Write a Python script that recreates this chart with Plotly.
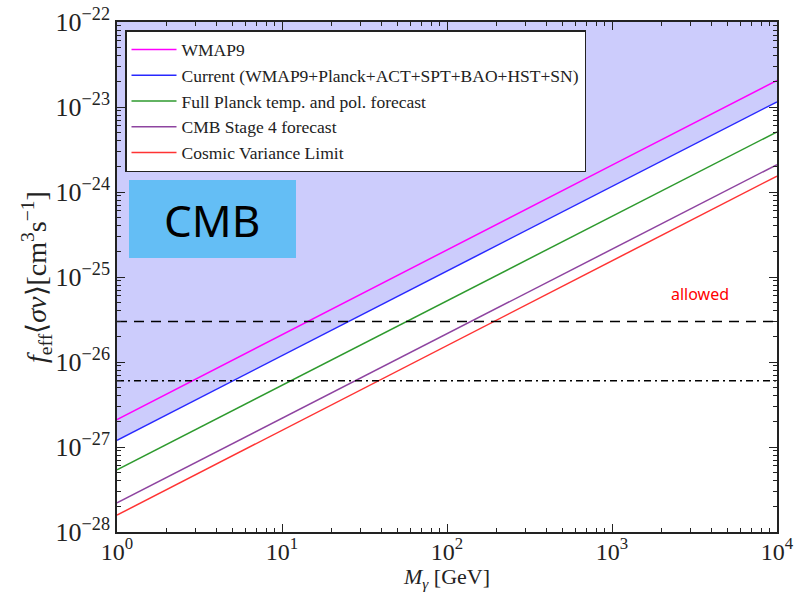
import plotly.graph_objects as go

# ---- data ----
mass = [1, 10, 100, 1000, 10000]
wmap9 = [2.1e-27, 2.1e-26, 2.09e-25, 2.07e-24, 2.05e-23]
current = [1.2e-27, 1.19e-26, 1.18e-25, 1.16e-24, 1.15e-23]
planck = [5.4e-28, 5.35e-27, 5.3e-26, 5.2e-25, 5.1e-24]
stage4 = [2.2e-28, 2.18e-27, 2.16e-26, 2.13e-25, 2.1e-24]
cvl = [1.58e-28, 1.57e-27, 1.56e-26, 1.55e-25, 1.54e-24]
x_range = [1, 10000]
y_top = [1e-22, 1e-22]
thermal_dashed = 3e-26
thermal_dashdot = 6e-27

names = ["WMAP9", "Current (WMAP9+Planck+ACT+SPT+BAO+HST+SN)",
         "Full Planck temp. and pol. forecast", "CMB Stage 4 forecast",
         "Cosmic Variance Limit"]
colors = ["#ff00ff", "#2828ff", "#2e9a2e", "#8e44a0", "#ff3333"]

x_ticks = [1, 10, 100, 1000, 10000]
x_ticktext = ["10<sup>0</sup>", "10<sup>1</sup>", "10<sup>2</sup>", "10<sup>3</sup>", "10<sup>4</sup>"]
y_ticks = [1e-28, 1e-27, 1e-26, 1e-25, 1e-24, 1e-23, 1e-22]
y_ticktext = ["10<sup>−%d</sup>" % n for n in [28, 27, 26, 25, 24, 23, 22]]

fig = go.Figure()

# shaded excluded region above current bound
fig.add_trace(go.Scatter(x=x_range, y=y_top, mode="lines", line=dict(width=0),
                         showlegend=False, hoverinfo="skip"))
fig.add_trace(go.Scatter(x=mass, y=current, mode="lines", line=dict(width=0),
                         fill="tonexty", fillcolor="rgb(204,204,252)",
                         showlegend=False, hoverinfo="skip"))

series = [wmap9, current, planck, stage4, cvl]
for i, (nm, ys, c) in enumerate(zip(names, series, colors)):
    fig.add_trace(go.Scatter(x=mass, y=ys, mode="lines", name=nm,
                             line=dict(color=c, width=1.5), legendrank=i + 1,
                             legendgroup=str(i)))

fig.add_trace(go.Scatter(x=x_range, y=[thermal_dashed] * 2, mode="lines",
                         line=dict(color="black", width=1.5, dash="10px,7px"),
                         showlegend=False))
fig.add_trace(go.Scatter(x=x_range, y=[thermal_dashdot] * 2, mode="lines",
                         line=dict(color="black", width=1.5, dash="7px,4px,2px,4px"),
                         showlegend=False))

minor_x = [m * 10 ** d for d in range(0, 4) for m in range(2, 10)]
minor_y = [m * 10.0 ** d for d in range(-28, -22) for m in range(2, 10)]

axis_common = dict(type="log", showgrid=False, zeroline=False, showline=True,
                   linecolor="#222", linewidth=1.5, mirror="ticks", ticks="inside",
                   ticklen=8, tickwidth=1.2, tickcolor="#222", automargin=False)

fig.update_xaxes(range=[0, 4], tickmode="array", tickvals=x_ticks, ticktext=x_ticktext,
                 tickfont=dict(family="Liberation Serif", size=24, color="#222"),
                 ticklabelstandoff=-3,
                 minor=dict(tickmode="array", tickvals=minor_x, ticks="inside",
                            ticklen=4, tickcolor="#222", tickwidth=1),
                 title=dict(text="<i>M<sub>γ</sub></i> [GeV]", standoff=6,
                            font=dict(family="Liberation Serif", size=22, color="#222")),
                 **axis_common)
fig.update_yaxes(range=[-28, -22], tickmode="array", tickvals=y_ticks, ticktext=y_ticktext,
                 tickfont=dict(family="Liberation Serif", size=26, color="#222"),
                 minor=dict(tickmode="array", tickvals=minor_y, ticks="inside",
                            ticklen=4, tickcolor="#222", tickwidth=1),
                 title=dict(text="<i>f</i><sub>eff</sub>⟨<i>σv</i>⟩[cm<sup>3</sup>s<sup>−1</sup>]",
                            standoff=0,
                            font=dict(family="Liberation Serif", size=28, color="#222")),
                 **axis_common)

fig.add_shape(type="rect", xref="paper", yref="paper",
              x0=(129 - 117) / 660, x1=(296 - 117) / 660,
              y0=1 - (258 - 22) / 510, y1=1 - (180 - 22) / 510,
              fillcolor="rgb(100,190,245)", line=dict(width=0), layer="above")
fig.add_annotation(xref="paper", yref="paper", x=(212 - 117) / 660, y=1 - (220 - 22) / 510,
                   xanchor="center", yanchor="middle",
                   text="CMB", showarrow=False,
                   font=dict(family="Noto Sans", size=44, color="black"))
fig.add_annotation(xref="paper", yref="paper", x=(700 - 117) / 660, y=1 - (294 - 22) / 510,
                   xanchor="center", yanchor="middle",
                   text="allowed", showarrow=False,
                   font=dict(family="Noto Sans", size=16, color="red"))

fig.update_layout(
    width=800, height=592,
    margin=dict(l=117, r=23, t=22, b=60),
    paper_bgcolor="white", plot_bgcolor="white",
    showlegend=True,
    legend=dict(x=(125 - 117) / 660, y=1 - (30 - 22) / 510, xanchor="left", yanchor="top",
                bgcolor="white", bordercolor="#222", borderwidth=1.5,
                font=dict(family="Liberation Serif", size=17.5, color="#222"),
                tracegroupgap=0, itemwidth=45),
)

fig.write_html("out.html")
